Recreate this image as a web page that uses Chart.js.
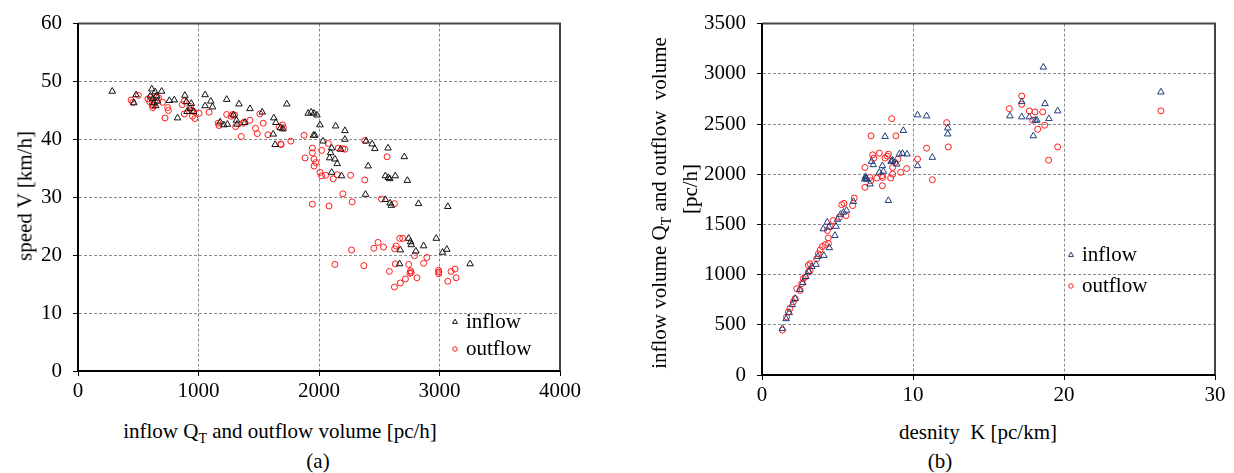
<!DOCTYPE html>
<html><head><meta charset="utf-8">
<script src="https://cdn.jsdelivr.net/npm/chart.js@4.4.0/dist/chart.umd.min.js"></script>
<style>
body{margin:0;width:1234px;height:473px;background:#fff;position:relative;overflow:hidden;font-family:"Liberation Serif","DejaVu Serif",serif;color:#000}
.c{position:absolute}
.t{position:absolute;white-space:nowrap;font-size:21px;line-height:1;font-family:"Liberation Serif","DejaVu Serif",serif}
.r{transform:translate(-50%,-50%) rotate(-90deg)}
.h{transform:translate(-50%,-50%)}
sub{font-size:14px;vertical-align:-5px;line-height:0}
</style></head><body>
<div class="c" style="left:0;top:0;width:600px;height:410px"><canvas id="ca"></canvas></div>
<div class="c" style="left:620px;top:0;width:614px;height:410px"><canvas id="cb"></canvas></div>
<div class="t r" style="left:25px;top:196px">speed V [km/h]</div>
<div class="t h" style="left:280px;top:431px">inflow Q<sub>T</sub> and outflow volume [pc/h]</div>
<div class="t h" style="left:318px;top:461px">(a)</div>
<div class="t r" style="left:659px;top:203px">inflow volume Q<sub>T</sub> and outflow&nbsp; volume</div>
<div class="t r" style="left:690px;top:189px">[pc/h]</div>
<div class="t h" style="left:978px;top:432px">desnity&nbsp; K [pc/km]</div>
<div class="t h" style="left:940px;top:461px">(b)</div>
<script>
// ---- data (a): inflow Q [pc/h] vs speed V [km/h]
const inflowA = [[284,48.3],[463,46.3],[482,47.7],[600,47.5],[612,48.7],[620,47.0],[628,46.3],[640,48.2],[650,47.5],[660,46.6],[645,45.8],[694,48.3],[758,46.7],[799,46.8],[826,43.7],[887,47.6],[900,46.5],[940,46.2],[930,45.3],[905,44.8],[960,44.8],[1055,47.7],[1102,46.6],[1116,45.6],[1055,45.8],[1234,46.9],[1336,46.1],[1180,43.0],[1290,44.2],[1315,43.3],[1210,42.5],[1240,42.6],[1320,42.6],[1385,42.9],[1427,45.3],[1529,44.7],[1625,43.7],[1642,42.9],[1680,42.0],[1700,41.8],[1733,46.1],[1620,40.9],[1636,39.1],[1910,44.5],[1935,44.7],[1958,44.5],[1983,44.2],[2008,42.5],[2138,42.3],[2215,41.5],[1954,40.7],[1965,40.7],[2033,39.7],[2215,40.0],[2391,39.7],[2441,39.2],[2463,38.4],[2573,38.5],[2105,38.5],[2096,37.7],[2088,36.8],[2132,36.6],[2151,35.8],[2179,38.3],[2708,37.0],[2408,35.4],[2105,34.3],[2187,33.7],[2551,33.7],[2575,33.4],[2587,33.2],[2633,33.7],[2733,32.9],[2386,30.5],[2550,29.6],[2590,29.0],[2600,28.6],[2826,28.9],[3069,28.4],[2744,22.9],[2973,22.9],[2766,21.8],[2760,22.3],[2675,20.9],[2804,20.7],[2868,21.6],[3025,20.5],[3061,21.0],[2669,18.5],[3254,18.5]];
const outflowA = [[441,46.8],[455,46.4],[501,47.6],[580,47.0],[595,46.5],[605,47.3],[615,46.0],[625,45.8],[640,46.4],[655,47.3],[668,47.2],[620,45.5],[702,46.4],[722,43.7],[744,45.5],[750,45.0],[865,46.0],[882,46.6],[882,44.4],[930,45.7],[945,45.0],[960,44.8],[970,43.6],[950,44.0],[1005,44.5],[1088,44.7],[1163,42.8],[1170,42.4],[1234,44.3],[1270,44.0],[1285,44.3],[1300,44.2],[1308,42.2],[1355,40.5],[1369,42.8],[1380,43.0],[1427,43.3],[1473,41.9],[1488,41.0],[1509,44.4],[1537,42.8],[1576,40.8],[1686,39.1],[1669,42.2],[1697,42.5],[1705,42.0],[1766,39.7],[1876,40.7],[1683,39.2],[1945,38.5],[1945,37.7],[1959,36.6],[1972,36.0],[1959,35.4],[1884,36.8],[2022,38.1],[2077,39.3],[2160,38.5],[2198,38.4],[2215,38.3],[2380,39.8],[2565,37.0],[2008,34.3],[2022,33.7],[2055,33.8],[2118,33.2],[2151,33.9],[2262,33.8],[2380,33.0],[2198,30.6],[2275,29.2],[1945,28.8],[2083,28.5],[2518,29.7],[2626,28.9],[2270,20.9],[2372,18.2],[2455,21.2],[2490,22.2],[2535,21.4],[2628,21.1],[2640,21.6],[2670,22.9],[2694,22.9],[2584,17.2],[2633,18.5],[2744,18.4],[2760,17.3],[2755,16.9],[2765,17.0],[2793,19.9],[2868,18.6],[2895,19.6],[2813,16.1],[2717,15.9],[2675,15.2],[2626,14.5],[2992,17.4],[2995,17.1],[2993,16.8],[3069,15.5],[3096,17.2],[3129,17.6],[3138,16.1],[2132,18.4]];
// ---- data (b): density K [pc/km] vs volume [pc/h]
const inflowB = [[1.35,463],[1.6,560],[1.8,620],[2.0,700],[2.2,760],[2.5,850],[2.7,920],[2.9,980],[3.1,1030],[3.3,1080],[3.58,1101],[3.7,1180],[4.1,1190],[4.46,1267],[4.06,1455],[4.32,1521],[4.44,1472],[4.83,1389],[4.9,1480],[5.0,1550],[5.2,1600],[5.4,1620],[5.6,1640],[6.05,1727],[6.8,1950],[6.85,1975],[6.9,1960],[6.95,1950],[7.15,1902],[7.26,2127],[7.37,2094],[8.15,2375],[9.36,2435],[7.97,2084],[8.04,2028],[7.77,2018],[8.6,2131],[8.65,2140],[8.55,2125],[8.92,2100],[9.1,2200],[9.3,2206],[9.6,2200],[8.37,1737],[10.3,2084],[11.28,2167],[12.3,2400],[12.3,2460],[10.3,2590],[10.9,2580],[18.63,3066],[17.2,2722],[16.42,2580],[17.2,2570],[17.7,2570],[18.1,2537],[18.2,2537],[18.74,2702],[19.0,2553],[17.97,2382],[19.58,2630],[26.42,2818]];
const outflowB = [[1.35,447],[1.63,579],[1.74,628],[1.85,662],[2.07,728],[2.19,761],[2.3,860],[2.52,843],[2.63,910],[2.74,960],[2.85,975],[3.07,1025],[3.18,1042],[3.07,1092],[3.18,1108],[3.62,1158],[3.73,1207],[3.85,1245],[4.0,1280],[4.2,1300],[4.4,1310],[4.39,1366],[4.33,1439],[4.5,1479],[4.72,1538],[5.12,1571],[5.28,1697],[5.43,1710],[5.56,1588],[6.0,1687],[6.11,1763],[6.82,2067],[6.82,1869],[7.2,1935],[7.15,1968],[7.93,1985],[8.65,2001],[9.18,2018],[9.58,2057],[8.8,2117],[7.4,2160],[7.33,2193],[7.77,2210],[8.3,2180],[7.22,2382],[8.87,2382],[7.6,1962],[8.0,1968],[7.97,1885],[8.15,2160],[8.37,2200],[8.65,2067],[9.0,2150],[8.52,1962],[10.9,2259],[10.3,2150],[11.28,1945],[12.23,2514],[12.34,2272],[8.59,2553],[17.2,2779],[17.2,2696],[16.38,2653],[17.7,2630],[18.08,2620],[17.93,2537],[18.59,2620],[18.72,2488],[18.26,2448],[19.58,2272],[18.98,2140],[26.42,2630]];
const seriesNames = ['inflow','outflow'];
const ticksA = {x:[0,4000,1000], y:[0,60,10]};
const ticksB = {x:[0,30,10], y:[0,3500,500]};

const FONT = {family:'"Liberation Serif","DejaVu Serif",serif', size:21};
const pts = a => a.map(p => ({x:p[0], y:p[1]}));

const framePlugin = {
  id:'frame',
  afterDatasetsDraw(chart, args, o){
    const {ctx, chartArea:a} = chart;
    ctx.save();
    ctx.strokeStyle = '#444'; ctx.lineWidth = 2;
    ctx.beginPath(); ctx.moveTo(a.left, a.top); ctx.lineTo(a.right, a.top); ctx.lineTo(a.right, a.bottom); ctx.stroke();
    ctx.strokeStyle = '#000';
    ctx.beginPath(); ctx.moveTo(a.left, a.top); ctx.lineTo(a.left, a.bottom); ctx.lineTo(a.right, a.bottom); ctx.stroke();
    ctx.restore();
    // legend
    const L = o.legend;
    chart.data.datasets.forEach((ds, i) => {
      const y = L.y + i * L.dy;
      ctx.save();
      ctx.strokeStyle = ds.borderColor; ctx.fillStyle = 'rgba(0,0,0,0)'; ctx.lineWidth = ds.borderWidth;
      Chart.helpers.drawPoint(ctx, {pointStyle: ds.pointStyle, radius: ds.pointRadius*0.75, borderWidth: ds.borderWidth}, L.x, y);
      ctx.fillStyle = '#000'; ctx.font = FONT.size + 'px ' + FONT.family;
      ctx.textBaseline = 'middle'; ctx.textAlign = 'left';
      ctx.fillText(ds.label, L.x + 11, y);
      ctx.restore();
    });
  }
};

const plain = v => String(v);

function makeChart(id, inflow, outflow, triColor, ticks, box, legend){
  return new Chart(document.getElementById(id), {
    type:'scatter',
    data:{datasets:[
      {label:seriesNames[0], data:pts(inflow), pointStyle:'triangle', pointRadius:3.8, borderWidth:1, borderColor:triColor, backgroundColor:'rgba(0,0,0,0)'},
      {label:seriesNames[1], data:pts(outflow), pointStyle:'circle', pointRadius:3.0, borderWidth:1, borderColor:'#ff1a1a', backgroundColor:'rgba(0,0,0,0)'}
    ]},
    options:{
      responsive:true, maintainAspectRatio:false, animation:false,
      layout:{padding:{top:box.top, right:box.right, left:0, bottom:0}},
      plugins:{legend:{display:false}, tooltip:{enabled:false}, frame:{legend}},
      scales:{
        x:{type:'linear', min:ticks.x[0], max:ticks.x[1],
           ticks:{stepSize:ticks.x[2], color:'#000', font:FONT, padding:3, maxRotation:0, callback:plain},
           grid:{color:'#8a8a8a', lineWidth:1, tickLength:5, tickColor:'#000'},
           border:{display:true, color:'#000', width:2, dash:[3,2]},
           afterFit(s){ s.height = box.xh; }},
        y:{type:'linear', min:ticks.y[0], max:ticks.y[1],
           ticks:{stepSize:ticks.y[2], color:'#000', font:FONT, padding:11, callback:plain},
           grid:{color:'#8a8a8a', lineWidth:1, tickLength:5, tickColor:'#000'},
           border:{display:true, color:'#000', width:2, dash:[3,2]},
           afterFit(s){ s.width = box.yw; }}
      }
    },
    plugins:[framePlugin]
  });
}
makeChart('ca', inflowA, outflowA, '#111', ticksA, {top:16, right:40, xh:39, yw:78}, {x:455, y:322, dy:27});
makeChart('cb', inflowB, outflowB, '#1f3d7a', ticksB, {top:22, right:19, xh:35, yw:142}, {x:451, y:255, dy:31});
</script>
</body></html>
